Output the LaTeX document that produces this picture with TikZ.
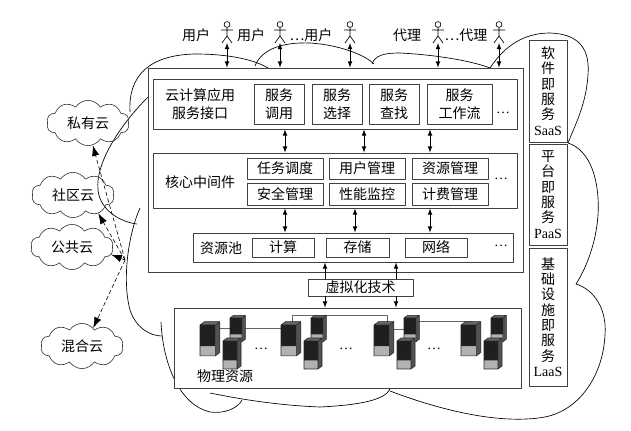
\documentclass[tikz,border=0pt]{standalone}
\usepackage{fontspec}
\setmainfont{Liberation Serif}
\newfontfamily\cjk{Noto Sans CJK SC}
\usetikzlibrary{shapes.symbols, arrows.meta, calc}
\tikzset{
  every node/.style={font=\cjk\fontsize{10.5pt}{13.5pt}\selectfont},
  scatola/.style 2 args={draw=black!75, fill=white, line width=0.7pt, inner sep=0pt,
    minimum width={#1*0.75pt}, minimum height={#2*0.75pt}},
  colonna/.style={align=center, font=\cjk\fontsize{10.5pt}{11.5pt}\selectfont},
  nuvola/.style={cloud, cloud puffs=10, cloud puff arc=115, aspect=1.9, draw=black!75,
    line width=0.5pt, minimum width=62pt, minimum height=34pt, inner sep=0pt},
  doppia/.style={latex-latex, line width=0.6pt},
  freccia/.style={densely dashed, line width=0.45pt, -{Latex[length=8pt,width=5.5pt]}},
  omino/.pic={
    \draw[line width=0.5pt] (0,-18.5) circle (2.2pt);
    \draw[line width=0.5pt] (0,-16) -- (0,-7) (-6,-13) -- (6,-13) (0,-7) -- (-5,0) (0,-7) -- (5,0);
  },
  server/.pic={
    \fill[black!60] (0,0) -- (4,-3) -- (18,-3) -- (14,0) -- cycle;
    \fill[black!68] (14,0) -- (18,-3) -- (18,25) -- (14,28) -- cycle;
    \fill[black!88] (0,0) rectangle (14,19);
    \fill[black!30] (0,19) rectangle (14,28);
    \draw[black!85, line width=0.4pt] (0,0) -- (4,-3) -- (18,-3) -- (18,25) -- (14,28) -- (0,28) -- cycle
      (14,0) -- (18,-3) (0,0) -- (14,0) -- (14,28) (0,19) -- (14,19);
  }
}
\begin{document}
\begin{tikzpicture}[x=0.75pt, y=-0.75pt, line join=round]
    \useasboundingbox (0,0) rectangle (631,431);
    % Contorno della nuvola grande
    \draw[line width=0.5pt] (130,112) .. controls (128,75) and (150,55) .. (195,54) .. controls (230,54) and (255,60) .. (268,68);
    \draw[line width=0.5pt] (255,66) .. controls (262,48) and (285,42) .. (310,43) .. controls (340,45) and (365,55) .. (374,64);
    \draw[line width=0.5pt] (372,64) .. controls (375,55) and (385,53) .. (400,53) .. controls (440,55) and (475,62) .. (490,68);
    \draw[line width=0.5pt] (490,68) .. controls (505,45) and (525,33) .. (550,33) .. controls (580,34) and (590,50) .. (588,75) .. controls (586,105) and (575,125) .. (568,143);
    \draw[line width=0.5pt] (568,143) .. controls (590,150) and (600,180) .. (598,215) .. controls (596,245) and (585,270) .. (576,284);
    \draw[line width=0.5pt] (576,284) .. controls (595,290) and (607,310) .. (605,335) .. controls (603,375) and (580,410) .. (545,417) .. controls (500,425) and (440,410) .. (390,391);
    \draw[line width=0.5pt] (390,389) .. controls (385,400) and (360,405) .. (320,407) .. controls (270,405) and (230,397) .. (210,393);
    \draw[line width=0.5pt] (161,322) .. controls (163,365) and (180,405) .. (210,412) .. controls (225,414) and (238,408) .. (242,400);
    \draw[line width=0.5pt] (140,208) .. controls (128,235) and (122,280) .. (130,310) .. controls (136,328) and (150,336) .. (162,336);
    \draw[line width=0.5pt] (148,97) .. controls (125,120) and (95,160) .. (98,190) .. controls (100,210) and (120,222) .. (137,224);
    % Livelli
    \node[scatola={375}{204}] (main) at (335.5,170) {};
    \node[scatola={364}{50}] (saasL) at (335,104) {};
    \node[align=center] (appl) at (200,104) {云计算应用\\服务接口};
    \node[scatola={50}{40}, align=center] (call) at (279,104) {服务\\调用};
    \node[scatola={50}{40}, align=center] (sel) at (337,104) {服务\\选择};
    \node[scatola={50}{40}, align=center] (find) at (394,104) {服务\\查找};
    \node[scatola={65}{40}, align=center] (flow) at (459.5,104) {服务\\工作流};
    \node (dots1) at (503,113) {\rmfamily\ldots};
    \node[scatola={364}{55}] (mid) at (335,180.5) {};
    \node (core) at (200,182) {核心中间件};
    \node[scatola={76}{21}] (task) at (285,168.5) {任务调度};
    \node[scatola={76}{22}] (sec) at (285,194) {安全管理};
    \node[scatola={76}{21}] (usr) at (367,168.5) {用户管理};
    \node[scatola={76}{22}] (perf) at (367,194) {性能监控};
    \node[scatola={76}{21}] (res) at (450,168.5) {资源管理};
    \node[scatola={76}{22}] (bill) at (450,194) {计费管理};
    \node (dots2) at (501,179) {\rmfamily\ldots};
    \node[scatola={320}{29}] (pool) at (353,247.5) {};
    \node (poolL) at (221,248) {资源池};
    \node[scatola={62}{19}] (comp) at (283,247.5) {计算};
    \node[scatola={63}{19}] (stor) at (357.5,247.5) {存储};
    \node[scatola={62}{19}] (net) at (436,247.5) {网络};
    \node (dots3) at (501,246) {\rmfamily\ldots};
    \node[scatola={105}{17}] (virt) at (360.5,287.5) {虚拟化技术};
    \node[scatola={347}{80}] (phys) at (347.5,348) {};
    % Colonne dei servizi
    \node[scatola={38}{102}, colonna] (saas) at (548,91) {软\\件\\即\\服\\务\\{\rmfamily SaaS}};
    \node[scatola={38}{101}, colonna] (paas) at (548,194.5) {平\\台\\即\\服\\务\\{\rmfamily PaaS}};
    \node[scatola={38}{138}, colonna] (iaas) at (548,317) {基\\础\\设\\施\\即\\服\\务\\{\rmfamily LaaS}};
    % Utenti
    \node (l1) at (196,35) {用户};
    \node (l2) at (251,35) {用户};
    \node (l3) at (311,35) {…用户};
    \node (l4) at (407,35) {代理};
    \node (l5) at (466,35) {…代理};
    \coordinate (u1) at (227,43);
    \coordinate (u2) at (280,43);
    \coordinate (u3) at (350,43);
    \coordinate (u4) at (438,43);
    \coordinate (u5) at (499,43);
    \pic at (u1) {omino};
    \pic at (u2) {omino};
    \pic at (u3) {omino};
    \pic at (u4) {omino};
    \pic at (u5) {omino};
    \draw[doppia] (u1) -- (main.north -| u1);
    \draw[doppia] (u2) -- (main.north -| u2);
    \draw[doppia] (u3) -- (main.north -| u3);
    \draw[doppia] (u4) -- (main.north -| u4);
    \draw[doppia] (u5) -- (main.north -| u5);
    % Frecce tra i livelli
    \coordinate (a1) at (285,0);
    \coordinate (a2) at (364,0);
    \coordinate (a3) at (430,0);
    \coordinate (b2) at (355,0);
    \coordinate (v1) at (325,0);
    \coordinate (v2) at (396,0);
    \draw[doppia] (saasL.south -| a1) -- (mid.north -| a1);
    \draw[doppia] (saasL.south -| a2) -- (mid.north -| a2);
    \draw[doppia] (saasL.south -| a3) -- (mid.north -| a3);
    \draw[doppia] (mid.south -| a1) -- (pool.north -| a1);
    \draw[doppia] (mid.south -| b2) -- (pool.north -| b2);
    \draw[doppia] (mid.south -| a3) -- (pool.north -| a3);
    \draw[-latex, line width=0.6pt] (virt.north -| v1) -- (pool.south -| v1);
    \draw[-latex, line width=0.6pt] (virt.north -| v2) -- (pool.south -| v2);
    \draw[-latex, line width=0.6pt] (virt.south -| v1) -- (phys.north -| v1);
    \draw[-latex, line width=0.6pt] (virt.south -| v2) -- (phys.north -| v2);
    % Risorse fisiche
    \draw[black!60, line width=0.5pt] (210,328) -- (290,328);
    \draw[black!60, line width=0.5pt] (292,325) -- (292,315) -- (387,315) -- (387,325);
    \draw[black!60, line width=0.5pt] (380,329) -- (420,329);
    \draw[black!60, line width=0.5pt] (419,321) -- (472,321) -- (472,325);
    \pic[scale=0.85] at (230,318) {server};
    \pic[scale=1.1] at (200,325) {server};
    \pic at (223,341) {server};
    \pic[scale=0.85] at (311,318) {server};
    \pic[scale=1.1] at (281,325) {server};
    \pic at (304,341) {server};
    \pic[scale=0.85] at (404,318) {server};
    \pic[scale=1.1] at (374,325) {server};
    \pic at (397,341) {server};
    \pic[scale=0.85] at (491,318) {server};
    \pic[scale=1.1] at (461,325) {server};
    \pic at (484,341) {server};
    \node (dots4) at (261,349) {\rmfamily\ldots};
    \node (dots5) at (346,349) {\rmfamily\ldots};
    \node (dots6) at (434,349) {\rmfamily\ldots};
    \node (physL) at (225,376) {物理资源};
    % Nuvole esterne
    \node[nuvola] (priv) at (88,123) {私有云};
    \node[nuvola] (comm) at (73,195) {社区云};
    \node[nuvola] (pub) at (72,247) {公共云};
    \node[nuvola] (mix) at (82,346) {混合云};
    \coordinate (hub) at (125,260);
    \draw[freccia] (hub) -- (priv.-78);
    \draw[freccia] (hub) -- (comm.-36);
    \draw[freccia] (hub) -- (pub.-11);
    \draw[freccia] (hub) -- (mix.58);
\end{tikzpicture}
\end{document}
